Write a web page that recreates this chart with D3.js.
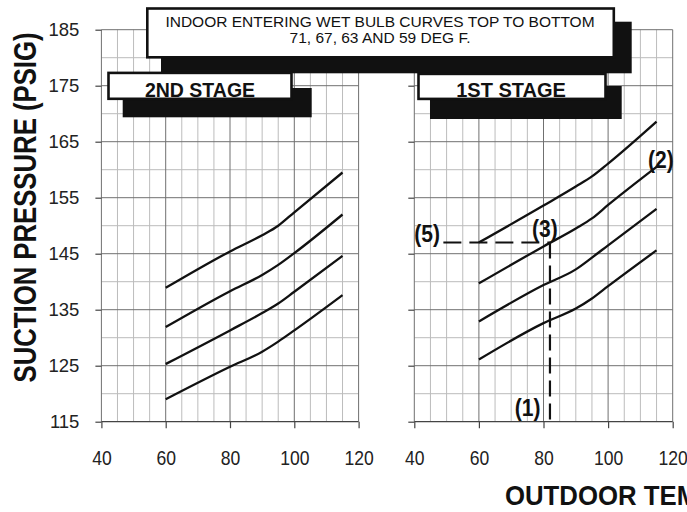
<!DOCTYPE html>
<html>
<head>
<meta charset="utf-8">
<script src="https://cdn.jsdelivr.net/npm/d3@7"></script>
<style>
  html, body { margin: 0; padding: 0; background: #fff; }
  svg { display: block; font-family: "Liberation Sans", Arial, Helvetica, sans-serif; }
</style>
</head>
<body>
<script>
// Outdoor temperature (deg F) at which each curve is sampled
const temps = [60, 80, 90, 95, 100, 115];

// 2nd stage suction pressure (psig), indoor entering wet bulb 71, 67, 63, 59 deg F
const stage2WB71 = [138.9, 145.4, 148.3, 150.0, 152.4, 159.5];
const stage2WB67 = [131.9, 138.3, 141.2, 143.0, 145.1, 152.0];
const stage2WB63 = [125.3, 131.3, 134.4, 136.1, 138.2, 144.6];
const stage2WB59 = [119.0, 124.8, 127.5, 129.3, 131.3, 137.6];

// 1st stage suction pressure (psig), same wet bulb order
const stage1WB71 = [147.0, 153.6, 157.0, 158.8, 161.1, 168.6];
const stage1WB67 = [139.7, 146.3, 149.5, 151.3, 153.7, 160.5];
const stage1WB63 = [132.9, 139.4, 142.2, 144.3, 146.5, 153.0];
const stage1WB59 = [126.1, 132.6, 135.2, 137.0, 139.2, 145.6];

// Worked example: outdoor temp (1) read up to curve (3), across to pressure (5)
const exampleTemp = 82;
const examplePressure = 147;
const exampleStartTemp = 49;

// Axis ticks
const xTickValues = [40, 60, 80, 100, 120];
const yTickValues = [115, 125, 135, 145, 155, 165, 175, 185];
const gridStep = 5;

const W = 687, H = 512;
const svg = d3.select("body").append("svg").attr("width", W).attr("height", H);

const y = d3.scaleLinear().domain([115, 185]).range([421.7, 29.7]);
const xLeft = d3.scaleLinear().domain([40, 120]).range([101.4, 358.6]);
const xRight = d3.scaleLinear().domain([40, 120]).range([414.3, 672.7]);

const panels = [
  { x: xLeft, series: [stage2WB71, stage2WB67, stage2WB63, stage2WB59], labels: true },
  { x: xRight, series: [stage1WB71, stage1WB67, stage1WB63, stage1WB59], labels: false }
];

const gridX = d3.range(40, 120 + 0.1, gridStep);
const gridY = d3.range(115, 185 + 0.1, gridStep);

panels.forEach(p => {
  const g = svg.append("g");
  const [x0, x1] = p.x.range();
  const [y0, y1] = y.range();

  // minor grid
  const minor = g.append("g").attr("stroke", "#bcbcbc").attr("stroke-width", 1);
  minor.selectAll("line.v").data(gridX.filter(v => v % 20 !== 0)).join("line")
    .attr("x1", d => p.x(d)).attr("x2", d => p.x(d)).attr("y1", y0).attr("y2", y1);
  minor.selectAll("line.h").data(gridY.filter(v => (v - 115) % 10 !== 0)).join("line")
    .attr("y1", d => y(d)).attr("y2", d => y(d)).attr("x1", x0).attr("x2", x1);

  // major grid
  const major = g.append("g").attr("stroke", "#707070").attr("stroke-width", 1);
  major.selectAll("line.v").data(gridX.filter(v => v % 20 === 0)).join("line")
    .attr("x1", d => p.x(d)).attr("x2", d => p.x(d)).attr("y1", y0).attr("y2", y1);
  major.selectAll("line.h").data(gridY.filter(v => (v - 115) % 10 === 0 && v !== 115)).join("line")
    .attr("y1", d => y(d)).attr("y2", d => y(d)).attr("x1", x0).attr("x2", x1);
  g.append("line").attr("stroke", "#444").attr("stroke-width", 1.3)
    .attr("x1", x0).attr("x2", x1).attr("y1", y(115)).attr("y2", y(115));

  // bottom axis
  const ax = g.append("g").attr("transform", `translate(0,${y(115)})`)
    .call(d3.axisBottom(p.x).tickValues(xTickValues).tickSize(6.5).tickSizeOuter(0).tickPadding(23));
  ax.select(".domain").remove();
  ax.selectAll(".tick line").attr("stroke", "#444").attr("stroke-width", 1.2);
  ax.selectAll(".tick text").attr("font-size", 19.5).attr("fill", "#222")
    .attr("transform", "scale(0.9,1)")
    .attr("font-family", "Liberation Sans, Arial, sans-serif");

  // left axis
  const ay = g.append("g").attr("transform", `translate(${x0},0)`)
    .call(d3.axisLeft(y).tickValues(yTickValues).tickSize(6).tickSizeOuter(0).tickPadding(16)
      .tickFormat(p.labels ? d3.format("d") : () => ""));
  ay.select(".domain").remove();
  ay.selectAll(".tick line").attr("stroke", "#444").attr("stroke-width", 1.2);
  ay.selectAll(".tick text").attr("font-size", 18.5).attr("fill", "#222")
    .attr("font-family", "Liberation Sans, Arial, sans-serif");

  // wet bulb curves
  const line = d3.line().x((d, i) => p.x(temps[i])).y(d => y(d)).curve(d3.curveMonotoneX);
  g.append("g").selectAll("path").data(p.series).join("path")
    .attr("d", d => line(d))
    .attr("fill", "none").attr("stroke", "#111").attr("stroke-width", 2.3)
    .attr("stroke-linecap", "butt");
});

// worked example dashed guides on the 1st stage panel
const guides = svg.append("g").attr("stroke", "#111").attr("stroke-width", 2.2).attr("fill", "none");
guides.append("line")
  .attr("x1", xRight(exampleStartTemp)).attr("x2", xRight(exampleTemp))
  .attr("y1", y(examplePressure)).attr("y2", y(examplePressure))
  .attr("stroke-dasharray", "18,8");
guides.append("line")
  .attr("x1", xRight(exampleTemp)).attr("x2", xRight(exampleTemp))
  .attr("y1", y(examplePressure)).attr("y2", y(115))
  .attr("stroke-dasharray", "16,7");

// numbered callouts (condensed bold)
const callouts = svg.append("g").attr("font-weight", "bold").attr("font-size", 24.5).attr("fill", "#111");
function callout(text, px, py, anchor) {
  callouts.append("text").text(text)
    .attr("transform", `translate(${px},${py}) scale(0.86,1)`)
    .attr("text-anchor", anchor);
}
callout("(5)", xRight(40), y(examplePressure) - 1, "start");
callout("(3)", xRight(exampleTemp) - 5, y(examplePressure) - 6, "middle");
callout("(2)", xRight(temps[temps.length - 1]) - 8.5, y(stage1WB67[stage1WB67.length - 1]) + 1, "start");
callout("(1)", xRight(exampleTemp) - 9.5, y(115) - 6, "end");

// shadowed label boxes
function shadowBox(box, shadow) {
  svg.append("rect").attr("x", shadow[0]).attr("y", shadow[1])
    .attr("width", shadow[2]).attr("height", shadow[3]).attr("fill", "#111");
  svg.append("rect").attr("x", box[0]).attr("y", box[1])
    .attr("width", box[2]).attr("height", box[3])
    .attr("fill", "#fff").attr("stroke", "#111").attr("stroke-width", 2.6);
}

shadowBox([147.3, 8.5, 466.5, 48.8], [161, 21.7, 470.7, 51.6]);
const note = svg.append("g").attr("font-size", 15.5).attr("fill", "#111").attr("text-anchor", "middle");
note.append("text").attr("x", 380).attr("y", 26.7).text("INDOOR ENTERING WET BULB CURVES TOP TO BOTTOM");
note.append("text").attr("x", 380).attr("y", 43.3).text("71, 67, 63 AND 59 DEG F.");

shadowBox([108.5, 72.9, 183, 25.9], [122.7, 88, 189, 29.3]);
svg.append("text").attr("x", 200).attr("y", 97.3).attr("text-anchor", "middle")
  .attr("font-weight", "bold").attr("font-size", 19.5).attr("fill", "#111").text("2ND STAGE");

shadowBox([418.5, 73.9, 187, 25], [430, 86, 191.7, 33]);
svg.append("text").attr("x", 511).attr("y", 96.7).attr("text-anchor", "middle")
  .attr("font-weight", "bold").attr("font-size", 20).attr("fill", "#111").text("1ST STAGE");

// axis titles
svg.append("text")
  .attr("transform", "translate(36,207.5) rotate(-90) scale(0.83,1)")
  .attr("text-anchor", "middle").attr("font-weight", "bold").attr("font-size", 31)
  .attr("fill", "#111").text("SUCTION PRESSURE (PSIG)");

svg.append("text")
  .attr("transform", "translate(505,505) scale(0.92,1)")
  .attr("text-anchor", "start").attr("font-weight", "bold").attr("font-size", 28)
  .attr("fill", "#111").text("OUTDOOR TEMPERATURE (DEG F)");
</script>
</body>
</html>
